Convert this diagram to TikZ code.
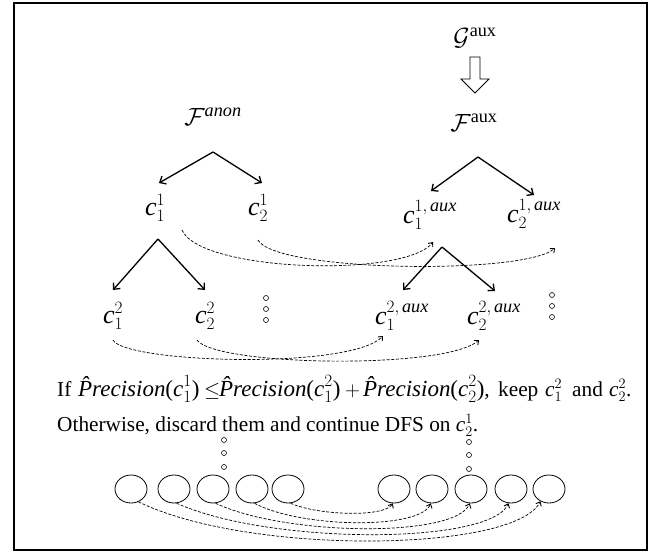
\documentclass[tikz,border=0pt]{standalone}
\usepackage{amsmath}
\usepackage{fontspec}
\setmainfont{Liberation Serif}
\usetikzlibrary{arrows.meta,shapes.geometric}
\newcommand\tc[2]{$\textit{c}_{#1}^{#2}$}
\newcommand\Prc[2]{{\fontsize{23}{26}\selectfont\textit{\^{P}recision}(\textit{c}$_{#1}^{#2}$)}}
\newcommand\seg[2]{\makebox[#1pt][l]{#2}}
\begin{document}
\begin{tikzpicture}[x=1pt,y=-1pt,
  lab/.style={font=\fontsize{26}{30}\selectfont, inner sep=0pt},
  txt/.style={font=\fontsize{21.3}{25}\selectfont, inner sep=0pt, anchor=base west},
  tarrow/.style={line width=1.3pt, -{Straight Barb[length=5pt,width=9pt,line width=1.3pt]}},
  darc/.style={line width=0.7pt, dash pattern=on 3pt off 1.6pt, -{Straight Barb[length=3.5pt,width=6pt,line width=0.9pt]}},
  ell/.style={draw, line width=0.8pt, ellipse, minimum width=32pt, minimum height=28pt, inner sep=0pt},
  dot/.style={draw, circle, line width=0.6pt, minimum size=5pt, inner sep=0pt}]
\useasboundingbox (0,0) rectangle (665,555);
\draw[line width=1.5pt] (14,3) rectangle (647,550);

% top right: G^aux and hollow arrow
\node[lab] (G) at (475,38) {$\mathcal{G}^{\textrm{aux}}$};
\draw[line width=0.8pt] (470,57) -- (480,57) -- (480,79) -- (489,79) -- (475,93) -- (461,79) -- (470,79) -- cycle;
\node[lab] (Fan) at (213,117) {$\mathcal{F}^{\textit{anon}}$};
\node[lab] (Fau) at (474,123) {$\mathcal{F}^{\textrm{aux}}$};

% level 1 labels
\node[lab] (c11) at (155,208) {\tc{1}{1}};
\node[lab] (c21) at (258,208) {\tc{2}{1}};
\node[lab] (a11) at (430,215) {\tc{1}{1,\,\textit{aux}}};
\node[lab] (a21) at (534,214) {\tc{2}{1,\,\textit{aux}}};

% level 2 labels
\node[lab] (c12) at (113,316) {\tc{1}{2}};
\node[lab] (c22) at (205,316) {\tc{2}{2}};
\node[lab] (a12) at (402,316) {\tc{1}{2,\,\textit{aux}}};
\node[lab] (a22) at (494,316) {\tc{2}{2,\,\textit{aux}}};

% vertical dots
\foreach \y [count=\i] in {298,309,320} \node[dot] (dl\i) at (266,\y) {};
\foreach \y [count=\i] in {295,306,317} \node[dot] (dr\i) at (552,\y) {};

% tree arrows
\coordinate (p0) at (213,152); \coordinate (p0l) at (159,183); \coordinate (p0r) at (262,183);
\coordinate (q0) at (478,157); \coordinate (q0l) at (431,191); \coordinate (q0r) at (534,195);
\coordinate (p1) at (158,239); \coordinate (p1l) at (113,290); \coordinate (p1r) at (205,290);
\coordinate (q1) at (442,247); \coordinate (q1l) at (403,290); \coordinate (q1r) at (495,291);
\draw[tarrow] (p0) -- (p0l); \draw[tarrow] (p0) -- (p0r);
\draw[tarrow] (q0) -- (q0l); \draw[tarrow] (q0) -- (q0r);
\draw[tarrow] (p1) -- (p1l); \draw[tarrow] (p1) -- (p1r);
\draw[tarrow] (q1) -- (q1l); \draw[tarrow] (q1) -- (q1r);

% dashed arcs level 1
\coordinate (s11) at (182,230); \coordinate (e11) at (433,242);
\coordinate (s21) at (258,240); \coordinate (e21) at (555,248);
\draw[darc] (s11) .. controls (200,272) and (405,278) .. (e11);
\draw[darc] (s21) .. controls (275,272) and (525,275) .. (e21);
% dashed arcs level 2
\coordinate (s12) at (113,340); \coordinate (e12) at (383,336);
\coordinate (s22) at (197,340); \coordinate (e22) at (479,340);
\draw[darc] (s12) .. controls (125,363) and (350,370) .. (e12);
\draw[darc] (s22) .. controls (215,366) and (445,370) .. (e22);

% text
\node[txt] (t1) at (57,396) {\seg{21}{If}\seg{126}{\Prc{1}{1}}\seg{15}{$\leq$}\seg{126}{\Prc{1}{2}}\seg{18}{$+$}\seg{135}{\Prc{2}{2},}\seg{47}{keep}\seg{27}{\tc{1}{2}}\seg{37}{and}\tc{2}{2}.};
\node[txt] (t2) at (57,431) {Otherwise, discard them and continue DFS on \tc{2}{1}.};

% bottom ellipses
\foreach \x [count=\i] in {131,174,213,252,288,394,432,471,511,549}
  \node[ell] (e\i) at (\x,489) {};
\foreach \y [count=\i] in {440,453,467} \node[dot] (bl\i) at (224,\y) {};
\foreach \y [count=\i] in {442,455,469} \node[dot] (br\i) at (469,\y) {};

% bottom arcs
\draw[darc] (e5.-80) .. controls (320,516) and (385,517) .. (e6.-95);
\draw[darc] (e4.-80) .. controls (300,528) and (420,530) .. (e7.-95);
\draw[darc] (e3.-80) .. controls (285,536) and (455,538) .. (e8.-95);
\draw[darc] (e2.-80) .. controls (270,545) and (490,545) .. (e9.-100);
\draw[darc] (e1.-60) .. controls (250,556) and (515,552) .. (e10.-125);
\end{tikzpicture}
\end{document}
